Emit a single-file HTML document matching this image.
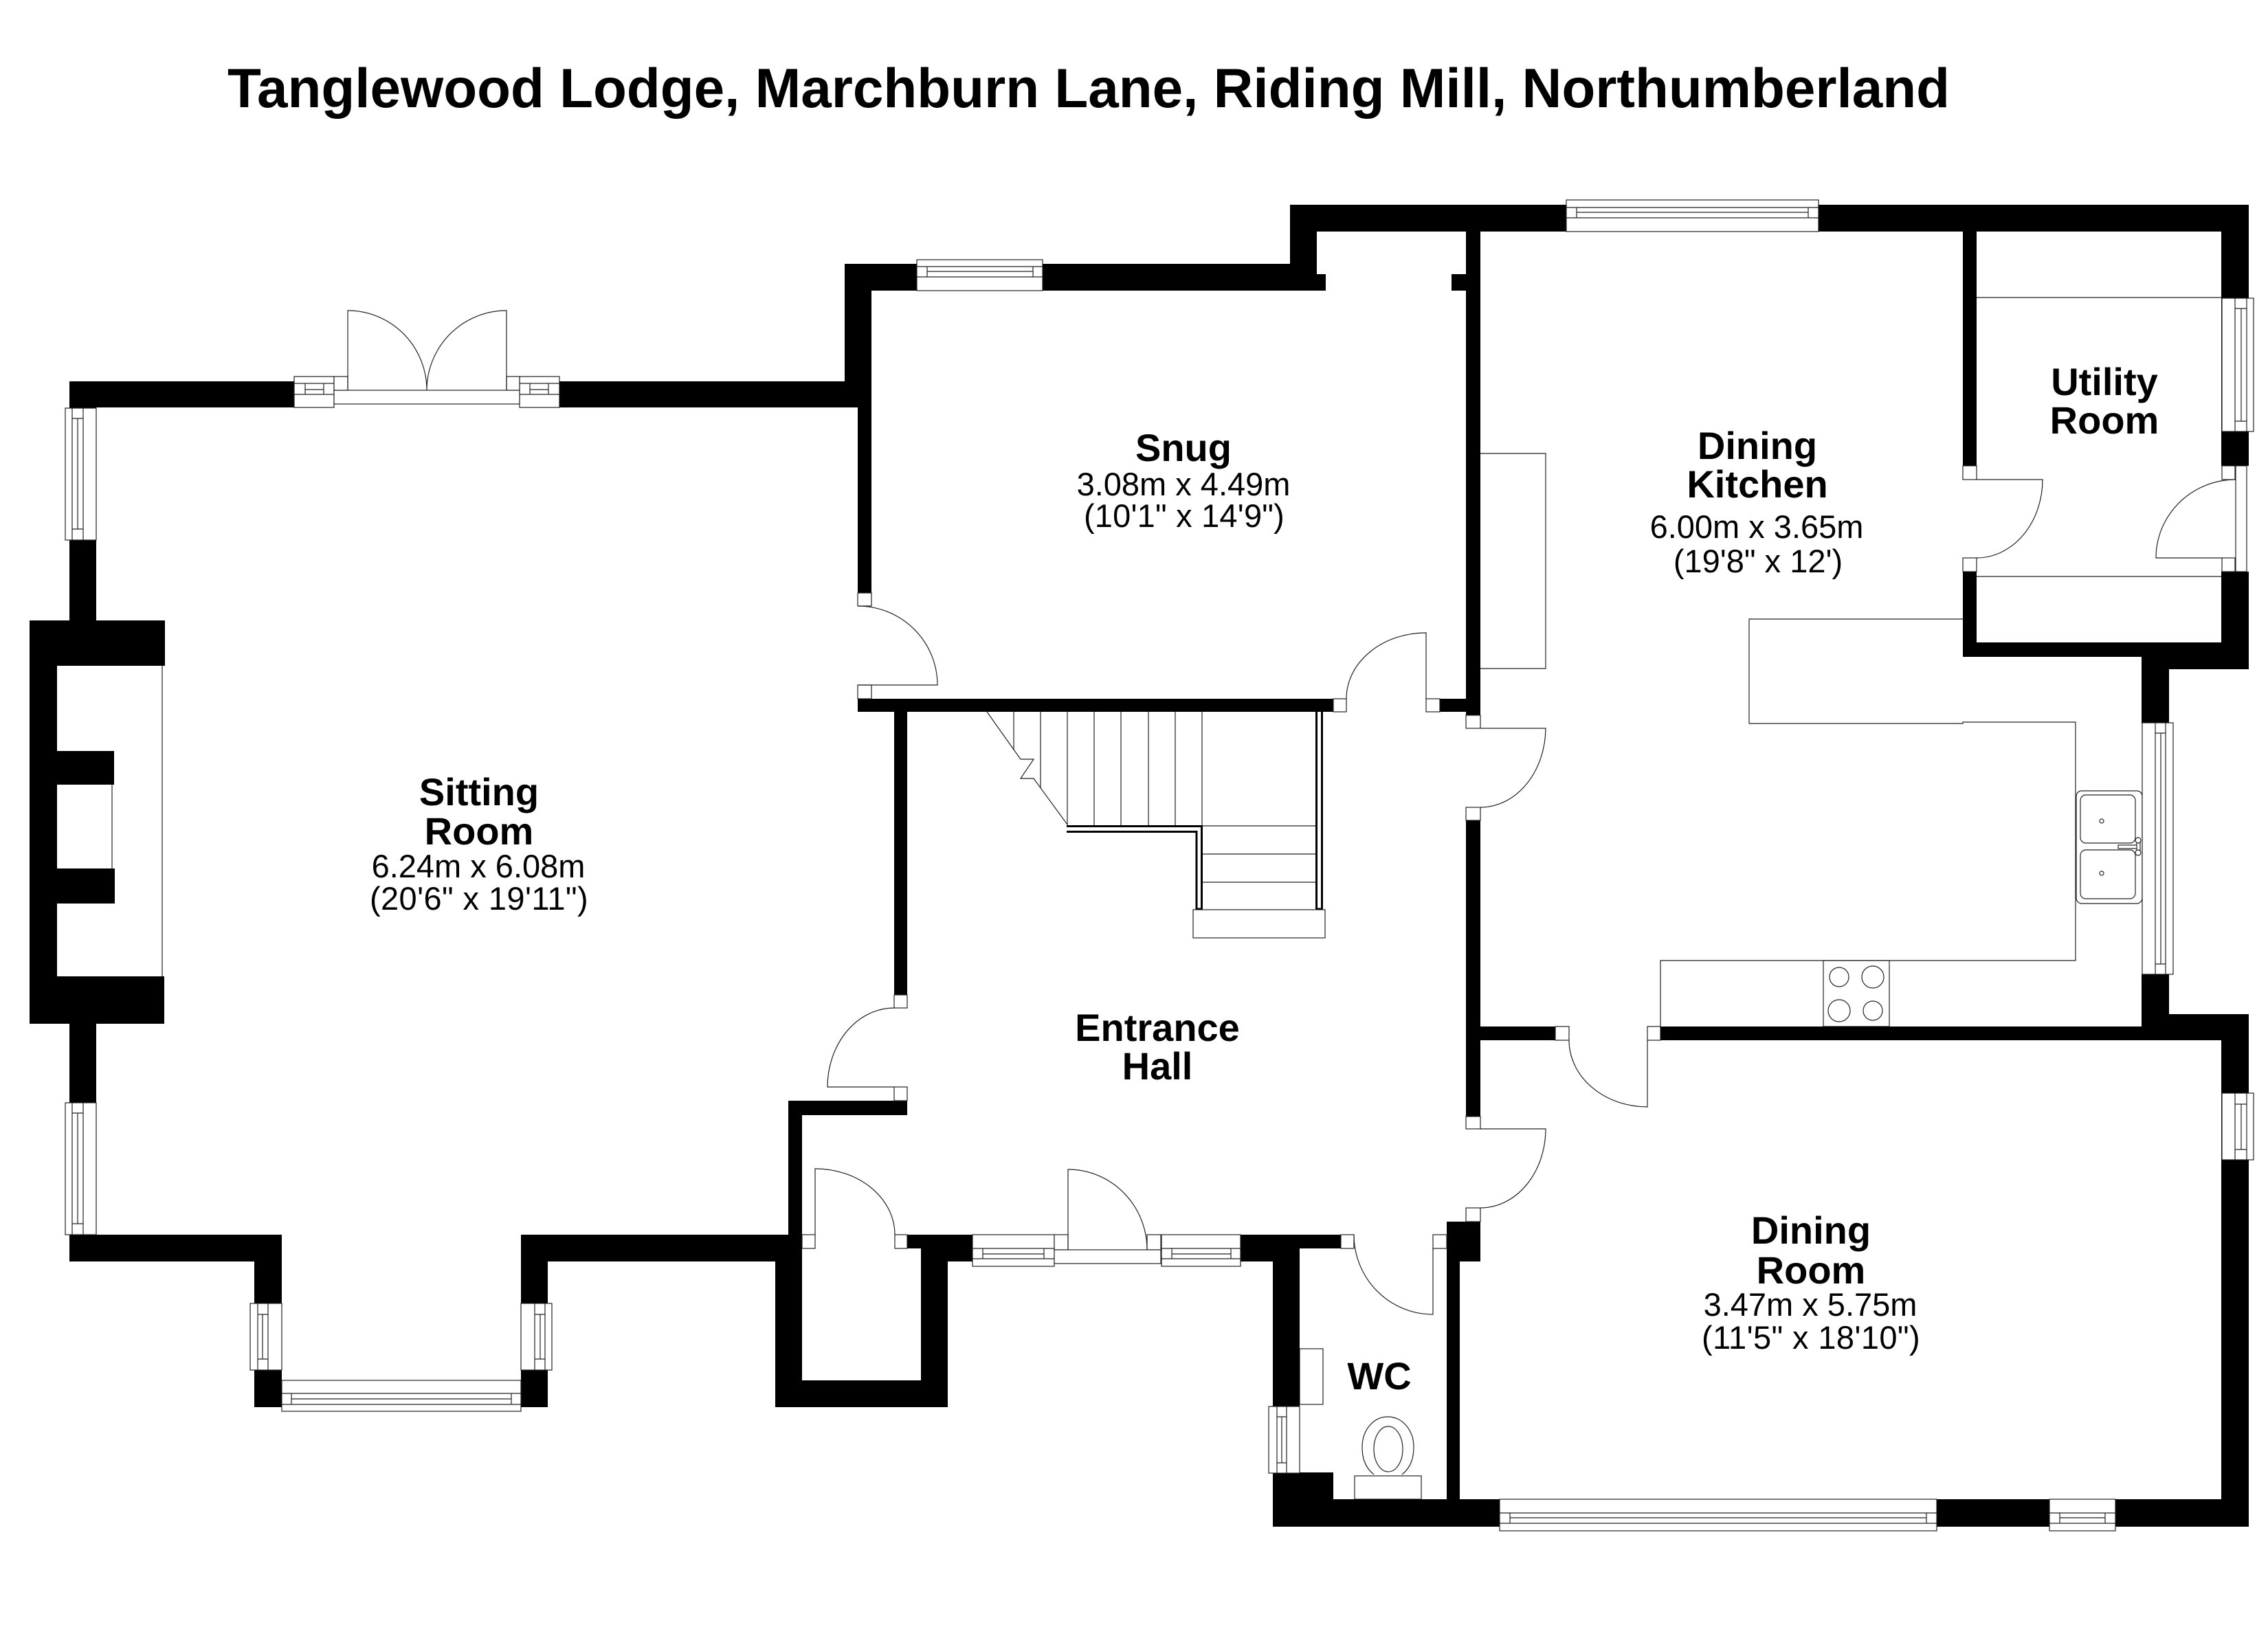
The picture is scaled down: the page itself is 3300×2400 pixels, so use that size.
<!DOCTYPE html>
<html><head><meta charset="utf-8"><title>Tanglewood Lodge floor plan</title>
<style>
html,body{margin:0;padding:0;background:#fff}
svg{display:block}
.w rect{fill:#000;stroke:none}
.t{fill:#fff;stroke:#222;stroke-width:1.2}
.l{fill:none;stroke:#222;stroke-width:1.2}
.k{fill:none;stroke:#000;stroke-width:3}
text{font-family:"Liberation Sans",Arial,sans-serif;fill:#000;text-anchor:middle}
.b{font-weight:bold;font-size:56px}
.r{font-size:47px}
</style></head><body>
<svg xmlns="http://www.w3.org/2000/svg" width="3300" height="2400" viewBox="0 0 3300 2400">
<rect width="3300" height="2400" fill="#fff"/>
<text x="331" y="156" style="text-anchor:start;font-weight:bold;font-size:81px" textLength="2506" lengthAdjust="spacingAndGlyphs">Tanglewood Lodge, Marchburn Lane, Riding Mill, Northumberland</text>

<!-- fixtures -->
<g class="l">
<path d="M236 969V1421M163 1142V1264"/>
<path d="M2154 660H2249V973H2154"/>
<path d="M2876 433H3232M2876 839H3232"/>
<path d="M2856 901H2545V1053H2856V1051H3020V1398H2416V1494"/>
<rect x="2653" y="1398" width="96" height="96"/>
<ellipse cx="2676" cy="1422" rx="14" ry="14"/><ellipse cx="2725" cy="1422" rx="16" ry="16"/>
<ellipse cx="2676" cy="1471" rx="16" ry="16"/><ellipse cx="2725" cy="1471" rx="14" ry="14"/>
<rect x="3021" y="1151" width="96" height="164" rx="8"/>
<rect x="3027" y="1157" width="80" height="70" rx="8"/><rect x="3027" y="1237" width="80" height="71" rx="8"/>
<circle cx="3058" cy="1195" r="3"/><circle cx="3058" cy="1271" r="3"/>
<rect x="3082" y="1230" width="30" height="5" fill="#fff"/><rect x="3109" y="1223" width="5" height="18" fill="#fff"/>
<circle cx="3111" cy="1223" r="4" fill="#fff"/><circle cx="3111" cy="1241" r="4" fill="#fff"/>
<!-- stairs -->
<path d="M1436 1036L1485 1105H1504L1485 1133H1504L1553 1200"/>
<path d="M1475 1036V1092M1514 1036V1147M1553 1036V1201M1592 1036V1201M1631 1036V1201M1671 1036V1201M1710 1036V1201M1749 1036V1203"/>
<path d="M1750 1202H1914M1750 1243H1914M1750 1284H1914"/>
<rect x="1891" y="1963" width="34" height="81"/>
<path d="M1999 2146C1985 2135 1982 2120 1982 2106C1982 2082 1998 2062 2019 2062C2041 2062 2057 2082 2057 2106C2057 2120 2054 2135 2040 2146"/>
<ellipse cx="2020" cy="2109" rx="21" ry="33"/>
<rect x="1971" y="2148" width="97" height="34"/>
</g>
<path class="k" d="M1552 1202.5H1748.5V1324M1552 1210.5H1741V1324M1915.5 1036V1324M1923.5 1036V1324M1739.5 1323H1750M1914 1323H1925"/>
<rect class="t" x="1736" y="1324" width="192" height="41"/>

<!-- walls -->
<g class="w">
<rect x="101" y="555" width="328" height="38"/>
<rect x="813" y="555" width="455" height="38"/>
<rect x="101" y="555" width="39" height="348"/>
<rect x="101" y="1490" width="39" height="346"/>
<rect x="43" y="903" width="197" height="66"/>
<rect x="43" y="1421" width="196" height="69"/>
<rect x="43" y="903" width="40" height="587"/>
<rect x="83" y="1093" width="83" height="49"/>
<rect x="83" y="1264" width="84" height="51"/>
<rect x="101" y="1797" width="309" height="39"/>
<rect x="370" y="1797" width="40" height="251"/>
<rect x="758" y="1797" width="39" height="251"/>
<rect x="758" y="1797" width="389" height="39"/>
<rect x="1128" y="1797" width="39" height="251"/>
<rect x="1147" y="1602" width="20" height="195"/>
<rect x="1147" y="1602" width="173" height="21"/>
<rect x="1128" y="2009" width="251" height="39"/>
<rect x="1340" y="1797" width="39" height="251"/>
<rect x="1320" y="1797" width="20" height="20"/>
<rect x="1340" y="1797" width="75" height="39"/>
<rect x="1229" y="384" width="39" height="209"/>
<rect x="1248" y="555" width="20" height="308"/>
<rect x="1229" y="384" width="648" height="39"/>
<rect x="1877" y="298" width="39" height="125"/>
<rect x="1916" y="399" width="13" height="24"/>
<rect x="1877" y="298" width="1395" height="39"/>
<rect x="1248" y="1017" width="692" height="19"/>
<rect x="1301" y="1036" width="19" height="412"/>
<rect x="2095" y="1017" width="38" height="19"/>
<rect x="2133" y="337" width="21" height="704"/>
<rect x="2112" y="399" width="21" height="24"/>
<rect x="2133" y="1194" width="21" height="431"/>
<rect x="2154" y="1494" width="109" height="20"/>
<rect x="2416" y="1494" width="816" height="20"/>
<rect x="3116" y="1418" width="40" height="76"/>
<rect x="3116" y="1494" width="116" height="20"/>
<rect x="3156" y="1476" width="116" height="38"/>
<rect x="3232" y="1476" width="40" height="746"/>
<rect x="3116" y="956" width="40" height="97"/>
<rect x="2856" y="935" width="416" height="21"/>
<rect x="3156" y="956" width="116" height="18"/>
<rect x="3232" y="298" width="40" height="380"/>
<rect x="3232" y="832" width="40" height="142"/>
<rect x="2856" y="337" width="20" height="341"/>
<rect x="2856" y="832" width="20" height="124"/>
<rect x="2105" y="1778" width="49" height="58"/>
<rect x="2105" y="1778" width="19" height="404"/>
<rect x="1852" y="2182" width="1420" height="40"/>
<rect x="1805" y="1797" width="146" height="20"/>
<rect x="1805" y="1797" width="86" height="39"/>
<rect x="1852" y="1797" width="39" height="385"/>
<rect x="1852" y="2143" width="88" height="79"/>
</g>

<!-- windows -->
<g class="t">
<rect x="1334" y="378" width="183" height="45"/>
<rect x="2279" y="291" width="367" height="46"/>
<rect x="410" y="2009" width="348" height="45"/>
<rect x="1415" y="1797" width="119" height="46"/>
<rect x="1690" y="1797" width="115" height="46"/>
<rect x="2182" y="2182" width="636" height="46"/>
<rect x="2982" y="2182" width="96" height="46"/>
<rect x="95" y="594" width="45" height="192"/>
<rect x="95" y="1605" width="45" height="192"/>
<rect x="364" y="1897" width="46" height="97"/>
<rect x="758" y="1897" width="45" height="97"/>
<rect x="1846" y="2047" width="45" height="97"/>
<rect x="3233" y="434" width="46" height="194"/>
<rect x="3233" y="1591" width="46" height="97"/>
<rect x="3117" y="1052" width="45" height="366"/>
</g>
<g class="l">
<path d="M1334 388H1517M1334 403H1517M1349 388V403M1503 388V403M1349 395H1503"/>
<path d="M2279 302H2646M2279 317H2646M2294 302V317M2631 302V317M2294 309H2631"/>
<path d="M410 2028H758M410 2044H758M424 2028V2044M744 2028V2044M424 2036H744"/>
<path d="M1415 1817H1534M1415 1832H1534M1430 1817V1832M1519 1817V1832M1430 1825H1519"/>
<path d="M1690 1817H1805M1690 1832H1805M1705 1817V1832M1791 1817V1832M1705 1825H1791"/>
<path d="M2182 2202H2818M2182 2217H2818M2197 2202V2217M2803 2202V2217M2197 2209H2803"/>
<path d="M2982 2202H3078M2982 2217H3078M2997 2202V2217M3063 2202V2217M2997 2209H3063"/>
<path d="M105 594V786M121 594V786M105 609H121M105 770H121M113 609V770"/>
<path d="M105 1605V1797M121 1605V1797M105 1620H121M105 1781H121M113 1620V1781"/>
<path d="M375 1897V1994M390 1897V1994M375 1913H390M375 1978H390M382 1913V1978"/>
<path d="M778 1897V1994M793 1897V1994M778 1913H793M778 1978H793M786 1913V1978"/>
<path d="M1858 2047V2144M1872 2047V2144M1858 2062H1872M1858 2129H1872M1865 2062V2129"/>
<path d="M3252 434V628M3269 434V628M3252 449H3269M3252 613H3269M3261 449V613"/>
<path d="M3252 1591V1688M3269 1591V1688M3252 1607H3269M3252 1673H3269M3261 1607V1673"/>
<path d="M3136 1052V1418M3151 1052V1418M3136 1067H3151M3136 1403H3151M3144 1067V1403"/>
</g>

<!-- french doors -->
<g class="t">
<rect x="428" y="548" width="58" height="45"/>
<rect x="756" y="548" width="58" height="45"/>
<rect x="486" y="568" width="270" height="20"/>
<rect x="486" y="548" width="20" height="20"/>
<rect x="737" y="548" width="19" height="20"/>
</g>
<g class="l">
<path d="M428 558H486M428 574H486M756 558H814M756 574H814M444 558V574M471 558V574M444 567H471M771 558V574M798 558V574M771 567H798"/>
<path d="M506 568V452A115 116 0 0 1 621 568A116 116 0 0 1 737 452V568"/>
</g>

<!-- door posts -->
<g class="t">
<rect x="1248" y="863" width="20" height="19"/>
<rect x="1248" y="997" width="20" height="20"/>
<rect x="1940" y="1017" width="19" height="19"/>
<rect x="2075" y="1017" width="20" height="19"/>
<rect x="2133" y="1041" width="21" height="19"/>
<rect x="2133" y="1175" width="21" height="19"/>
<rect x="1301" y="1448" width="19" height="19"/>
<rect x="1301" y="1582" width="19" height="20"/>
<rect x="1167" y="1797" width="19" height="20"/>
<rect x="1302" y="1797" width="18" height="20"/>
<rect x="1534" y="1797" width="20" height="22"/>
<rect x="1669" y="1797" width="20" height="22"/>
<rect x="1534" y="1819" width="155" height="20"/>
<rect x="1951" y="1797" width="19" height="20"/>
<rect x="2085" y="1797" width="20" height="20"/>
<rect x="2133" y="1625" width="21" height="18"/>
<rect x="2133" y="1758" width="21" height="20"/>
<rect x="2263" y="1494" width="20" height="20"/>
<rect x="2397" y="1494" width="19" height="20"/>
<rect x="2856" y="678" width="20" height="20"/>
<rect x="2856" y="812" width="20" height="20"/>
<rect x="3233" y="678" width="19" height="20"/>
<rect x="3233" y="812" width="19" height="20"/>
<rect x="3253" y="678" width="16" height="154"/>
</g>

<!-- door leaves and swings -->
<g class="l">
<path d="M1248 882A116 115 0 0 1 1364 997H1248"/>
<path d="M2075 1017V921A116 96 0 0 0 1959 1017"/>
<path d="M2154 1060H2249A95 116 0 0 1 2154 1175"/>
<path d="M1301 1582H1204A97 115 0 0 1 1301 1467"/>
<path d="M1186 1797V1701A116 96 0 0 1 1302 1797"/>
<path d="M1554 1819V1702A115 117 0 0 1 1669 1819"/>
<path d="M2085 1817V1913A115 116 0 0 1 1970 1797"/>
<path d="M2154 1643H2249A95 115 0 0 1 2154 1758"/>
<path d="M2397 1514V1611A114 97 0 0 1 2283 1514"/>
<path d="M2876 698H2972A96 114 0 0 1 2876 812"/>
<path d="M3233 812H3137A116 114 0 0 1 3253 698"/>
</g>

<!-- labels -->
<text class="b" x="697" y="1172">Sitting</text>
<text class="b" x="697" y="1229">Room</text>
<text class="r" x="696" y="1277">6.24m x 6.08m</text>
<text class="r" x="697" y="1324" style="letter-spacing:.4px">(20'6" x 19'11")</text>

<text class="b" x="1722" y="671">Snug</text>
<text class="r" x="1722" y="721">3.08m x 4.49m</text>
<text class="r" x="1723" y="767" style="letter-spacing:.2px">(10'1" x 14'9")</text>

<text class="b" x="2557" y="668">Dining</text>
<text class="b" x="2557" y="724">Kitchen</text>
<text class="r" x="2556" y="783">6.00m x 3.65m</text>
<text class="r" x="2558" y="833">(19'8" x 12')</text>

<text class="b" x="3062" y="575">Utility</text>
<text class="b" x="3062" y="631">Room</text>

<text class="b" x="1684" y="1515">Entrance</text>
<text class="b" x="1684" y="1571">Hall</text>

<text class="b" x="2007" y="2022">WC</text>

<text class="b" x="2635" y="1810">Dining</text>
<text class="b" x="2635" y="1868">Room</text>
<text class="r" x="2634" y="1915">3.47m x 5.75m</text>
<text class="r" x="2635" y="1963" style="letter-spacing:.4px">(11'5" x 18'10")</text>
</svg>
</body></html>
